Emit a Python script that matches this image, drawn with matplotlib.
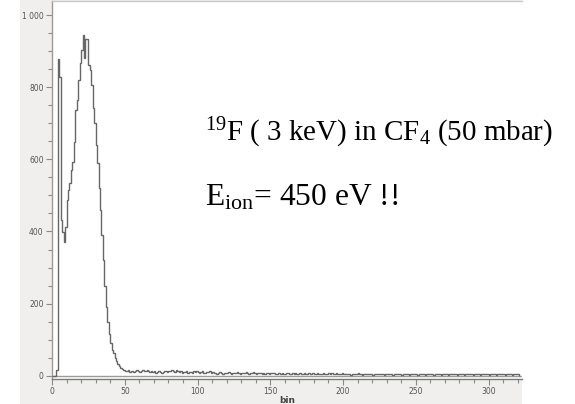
import numpy as np
import matplotlib
matplotlib.use("Agg")
import matplotlib.pyplot as plt
from matplotlib.patches import Rectangle

plt.rcParams['mathtext.fontset'] = 'custom'
plt.rcParams['mathtext.rm'] = 'Liberation Serif'
plt.rcParams['mathtext.it'] = 'Liberation Serif:italic'

# ---- data (counts per bin, bin width 1) ----
peak_counts = [0, 0, 0, 15, 877, 829, 432, 399, 371, 413, 487, 515, 534, 570, 593,
               649, 737, 764, 819, 867, 903, 944, 880, 935, 935, 861, 847, 806, 742,
               700, 640, 590, 520, 460, 390, 320, 250, 190, 150, 115, 90, 72, 62,
               48, 40, 32, 26, 22, 18, 16, 14]
tail_a = [13, 15, 11, 12, 14, 10, 12, 15, 13, 11, 14, 16, 12, 13, 15, 12, 11, 13, 10, 12,
          9, 11, 12, 10, 8, 11, 13, 12, 10, 14, 12, 15, 13, 11, 16, 12, 10, 13, 9, 11,
          10, 12, 8, 10, 11, 9, 12, 10, 13, 11, 9, 10, 12, 8, 9, 11, 10, 12, 9, 10]
tail_b = [7, 9, 6, 8, 10, 7, 6, 8, 9, 7, 11, 8, 6, 7, 9, 8, 10, 7, 6, 9,
          8, 7, 11, 9, 6, 8, 7, 10, 8, 6, 7, 9, 8, 6, 7, 5, 8, 7, 6, 9,
          7, 8, 6, 5, 7, 8, 6, 7, 5, 6, 8, 7, 5, 6, 7, 6, 8, 5, 6, 7,
          5, 6, 7, 5, 6, 8, 6, 5, 7, 6, 5, 7, 6, 5, 6, 7, 5, 6, 5, 7,
          6, 8, 5, 6, 7, 5, 6, 5, 7, 6]
tail_c = [5, 4, 6, 5, 3, 5, 6, 4, 5, 7, 4, 5, 3, 6, 5, 4, 5, 6, 4, 3,
          5, 6, 4, 5, 4, 6, 5, 3, 4, 5, 6, 4, 5, 3, 4, 6, 5, 4, 5, 3,
          4, 5, 6, 4, 3, 5, 4, 6, 5, 4, 3, 5, 4, 5, 6, 3, 4, 5, 4, 6,
          5, 3, 4, 6, 5, 4, 3, 5, 6, 4, 5, 3, 4, 5, 6, 4, 5, 3, 5, 4,
          6, 4, 3, 5, 4, 6, 5, 4, 3, 5, 4, 6, 5, 3, 4, 5, 6, 4, 5, 3,
          4, 5, 6, 4, 3, 5, 4, 6, 5, 4, 3, 5, 6, 4, 5, 3, 4, 6, 5, 4]
counts = np.array(peak_counts + tail_a + tail_b + tail_c, dtype=float)
edges = np.arange(len(counts) + 1)

y_ticks = [0, 200, 400, 600, 800, 1000]
y_labels = ["0", "200", "400", "600", "800", "1 000"]
x_ticks = [0, 50, 100, 150, 200, 250, 300]
line1 = "$^{19}$F ( 3 keV) in CF$_4$ (50 mbar)"
line2 = "E$_{\\mathrm{ion}}$= 450 eV !!"

W, H = 575, 404
fig = plt.figure(figsize=(W / 100, H / 100), dpi=100, facecolor="white")
# grey application panel behind the plot
fig.patches.append(Rectangle((20 / W, 0), (522 - 20) / W, 1, transform=fig.transFigure,
                             facecolor="#f0efed", edgecolor="none", zorder=-5))

ax = fig.add_axes([52 / W, (404 - 379) / H, (522 - 52) / W, (379 - 1) / H])
ax.set_zorder(2)
ax.set_facecolor("white")
ax.stairs(counts, edges, color="#666666", linewidth=1.0, zorder=3)
ax.axhline(0, color="#9a9a9a", linewidth=1.0, zorder=1)

ax.set_xlim(0, 323)
ax.set_ylim(-9, 1039)

ax.spines["right"].set_visible(False)
ax.spines["top"].set_color("#c8c8c8")
ax.spines["left"].set_color("#9a9a9a")
ax.spines["bottom"].set_color("#7a7a7a")
for s in ["top", "left", "bottom"]:
    ax.spines[s].set_linewidth(1.0)

ax.set_yticks(y_ticks)
ax.set_yticklabels(y_labels)
ax.set_yticks(np.arange(0, 1001, 50), minor=True)
ax.set_xticks(x_ticks)
ax.set_xticks(np.arange(0, 321, 10), minor=True)
ax.tick_params(axis="both", which="major", length=4, width=0.8, color="#8a8a8a",
               labelsize=5.5, labelcolor="#555555", pad=2)
ax.tick_params(axis="both", which="minor", length=3, width=0.8, color="#8a8a8a")
ax.set_xlabel("bin", fontsize=6.5, color="#444444", fontweight="bold", labelpad=0)

t1 = fig.text(205 / W, 1 - 141 / H, line1, family="Liberation Serif", fontsize=20.9,
              color="black", va="baseline", ha="left", zorder=10)
t2 = fig.text(205 / W, 1 - 205 / H, line2, family="Liberation Serif", fontsize=22.7,
              color="black", va="baseline", ha="left", zorder=10)

fig.savefig("out.png", dpi=100, facecolor="white")
